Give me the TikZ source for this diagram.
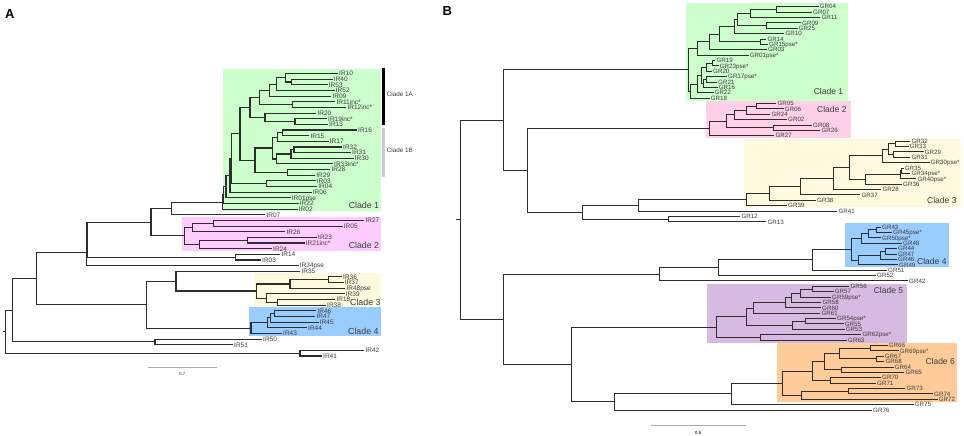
\documentclass[tikz,border=0pt]{standalone}
\usepackage{fontspec}
\setmainfont{Liberation Sans}
\usetikzlibrary{calc}
\definecolor{cgreen}{RGB}{204,255,204}
\definecolor{cpinkA}{RGB}{255,204,255}
\definecolor{cpinkB}{RGB}{255,208,232}
\definecolor{cyellow}{RGB}{255,250,222}
\definecolor{cblue}{RGB}{153,204,255}
\definecolor{cpurple}{RGB}{214,186,226}
\definecolor{corange}{RGB}{255,204,153}
\definecolor{treeline}{RGB}{45,45,45}
\definecolor{labgray}{RGB}{60,60,60}
\definecolor{scalegray}{RGB}{170,170,170}
\newcommand\lfA[4]{\node[leaf] (#1) at (#2,{73.5+5.65*#3}) {#4};}
\newcommand\lfB[4]{\node[leaf] (#1) at (#2,{6.7+5.377*#3}) {#4};}
\newcommand\jn[4]{%
  \coordinate (#1mid) at ($(#3)!0.5!(#4)$);
  \coordinate (#1) at (#2,0 |- #1mid);
  \draw[br] (#1) |- (#3);
  \draw[br] (#1) |- (#4);}
\begin{document}
\begin{tikzpicture}[x=1pt,y=-1pt,
  panellab/.style={anchor=west,font=\bfseries\fontsize{13}{13}\selectfont,inner sep=0pt},
  cladelab/.style={anchor=east,inner sep=0pt,text=labgray},
  scalelab/.style={font=\fontsize{4.5}{5}\selectfont,inner sep=0pt,text=labgray},
  scalebar/.style={draw=scalegray,line width=1.2pt}]
\useasboundingbox (0,0) rectangle (964,436);

% ---------------- Panel A ----------------
\node[panellab] (labA) at (5,14) {A};
\fill[cgreen] (222.7,69) rectangle (381,211);
\fill[cpinkA] (182,216.7) rectangle (380.7,250.7);
\fill[cyellow] (254.3,273.3) rectangle (380.7,306.7);
\fill[cblue] (249,307.3) rectangle (380.7,336);
\fill[black] (382.3,68.3) rectangle (385,125);
\fill[black!20] (382.3,127.7) rectangle (385,177.3);

\begin{scope}[leaf/.style={anchor=west,inner xsep=1.2pt,inner ysep=0pt,text height=4.7pt,text depth=0pt,font=\fontsize{6.5}{7}\selectfont,text=labgray},
  br/.style={draw=treeline,line width=1.1pt}]
\lfA{aIR10}{337.8}{0}{IR10}
\lfA{aIR40}{332.5}{1}{IR40}
\lfA{aIR53}{327.5}{2}{IR53}
\lfA{aIR52}{334.5}{3}{IR52}
\lfA{aIR09}{331.2}{4}{IR09}
\lfA{aIR11}{335.2}{5}{IR11inc*}
\lfA{aIR12}{346.2}{6}{IR12inc*}
\lfA{aIR20}{316.2}{7}{IR20}
\lfA{aIR19}{326.8}{8}{IR19inc*}
\lfA{aIR13}{327.8}{9}{IR13}
\lfA{aIR16}{356.8}{10}{IR16}
\lfA{aIR15}{309.2}{11}{IR15}
\lfA{aIR17}{328.5}{12}{IR17}
\lfA{aIR32}{341.8}{13}{IR32}
\lfA{aIR31}{350.8}{14}{IR31}
\lfA{aIR30}{353.5}{15}{IR30}
\lfA{aIR33}{332.8}{16}{IR33inc*}
\lfA{aIR28}{330.2}{17}{IR28}
\lfA{aIR29}{315}{18}{IR29}
\lfA{aIR03}{315.5}{19}{IR03}
\lfA{aIR04}{317}{20}{IR04}
\lfA{aIR06}{311.5}{21}{IR06}
\lfA{aIR01}{290.5}{22}{IR01pse}
\lfA{aIR22}{298.5}{23}{IR22}
\lfA{aIR02}{297.5}{24}{IR02}
\lfA{aIR07}{265.2}{25}{IR07}
\lfA{aIR27}{364.2}{26}{IR27}
\lfA{aIR05}{342.5}{27}{IR05}
\lfA{aIR26}{285.2}{28}{IR26}
\lfA{aIR23}{316.8}{29}{IR23}
\lfA{aIR21}{304.5}{30}{IR21inc*}
\lfA{aIR24}{271.8}{31}{IR24}
\lfA{aIR14}{280.2}{32}{IR14}
\lfA{aIR03x}{260.8}{33}{IR03}
\lfA{aIR34}{298.5}{34}{IR34pse}
\lfA{aIR35}{300.2}{35}{IR35}
\lfA{aIR36}{341.8}{36}{IR36}
\lfA{aIR37}{343.5}{37}{IR37}
\lfA{aIR48}{345.2}{38}{IR48pse}
\lfA{aIR39}{344.5}{39}{IR39}
\lfA{aIR18}{335.2}{40}{IR18}
\lfA{aIR38}{325.8}{41}{IR38}
\lfA{aIR46}{316.2}{42}{IR46}
\lfA{aIR47}{315.2}{43}{IR47}
\lfA{aIR45}{318.5}{44}{IR45}
\lfA{aIR44}{306.8}{45}{IR44}
\lfA{aIR43}{281.8}{46}{IR43}
\lfA{aIR50}{261.8}{47}{IR50}
\lfA{aIR51}{232.8}{48}{IR51}
\lfA{aIR42}{364.2}{49}{IR42}
\lfA{aIR41}{321.8}{50}{IR41}

\jn{an1}{291.7}{aIR40}{aIR53}
\jn{an2}{285.7}{aIR10}{an1}
\jn{an3}{276.7}{an2}{aIR52}
\jn{an4}{269.3}{an3}{aIR09}
\jn{an5}{292.7}{aIR11}{aIR12}
\jn{an6}{259.3}{an4}{an5}
\jn{an7}{295}{aIR19}{aIR13}
\jn{an8}{265}{aIR20}{an7}
\jn{an9}{250}{an6}{an8}
\jn{am5}{282.7}{aIR16}{aIR15}
\jn{am6}{277.3}{am5}{aIR17}
\jn{am1}{294}{aIR32}{aIR31}
\jn{am2}{291}{am1}{aIR30}
\jn{am3}{276.7}{am2}{aIR33}
\jn{am7}{272.3}{am6}{am3}
\jn{am8}{287.3}{aIR28}{aIR29}
\jn{am9}{255}{am7}{am8}
\jn{aAB}{240}{an9}{am9}
\jn{apr}{266.7}{aIR03}{aIR04}
\jn{aP}{231.7}{aAB}{apr}
\jn{aQ}{230}{aP}{aIR06}
\jn{aR}{226}{aQ}{aIR01}
\jn{aS}{223.5}{aR}{aIR22}
\jn{aT}{222.7}{aS}{aIR02}
\jn{ac2a}{213.3}{aIR27}{aIR05}
\jn{ac2b}{192.3}{ac2a}{aIR26}
\jn{ac2c}{247.3}{aIR23}{aIR21}
\jn{ac2d}{199.3}{ac2c}{aIR24}
\jn{aC2}{184.3}{ac2b}{ac2d}
\jn{ag0}{171.7}{aT}{aIR07}
\jn{ag1}{151}{ag0}{aC2}
\jn{ah1}{235.7}{aIR14}{aIR03x}
\jn{ah2}{87}{ag1}{ah1}
\jn{ah3}{86.7}{ah2}{aIR34}
\jn{ak1}{328.3}{aIR36}{aIR37}
\jn{ak2}{290}{ak1}{aIR48}
\jn{ak3}{277.3}{aIR18}{aIR38}
\jn{ak4}{266.7}{aIR39}{ak3}
\jn{aC3}{256.7}{ak2}{ak4}
\jn{aj1}{176}{aIR35}{aC3}
\jn{aq1}{274.3}{aIR46}{aIR47}
\jn{aq2}{270.5}{aq1}{aIR45}
\jn{aq3}{267.3}{aq2}{aIR44}
\jn{aC4}{251}{aq3}{aIR43}
\jn{aj2}{146.7}{aj1}{aC4}
\jn{ar1}{36.7}{ah3}{aj2}
\jn{al1}{155}{aIR50}{aIR51}
\jn{ar2}{12.3}{ar1}{al1}
\jn{al2}{300}{aIR42}{aIR41}
\jn{aroot}{5.7}{ar2}{al2}
\coordinate (atick) at (2.7,0 |- aroot);
\draw[br] (atick) -- (aroot);
\end{scope}

\begin{scope}[font=\fontsize{8.8}{9}\selectfont]
\node[cladelab] (aCl1) at (379.3,205) {Clade 1};
\node[cladelab] (aCl2) at (379.3,245) {Clade 2};
\node[cladelab] (aCl3) at (380.7,302.3) {Clade 3};
\node[cladelab] (aCl4) at (378.7,331) {Clade 4};
\end{scope}
\node[anchor=west,inner sep=0pt,text=labgray,font=\fontsize{6.3}{7}\selectfont] (aCl1A) at (386.7,94) {Clade 1A};
\node[anchor=west,inner sep=0pt,text=labgray,font=\fontsize{6.3}{7}\selectfont] (aCl1B) at (386.7,150) {Clade 1B};

\coordinate (asb1) at (148.3,367.7);
\coordinate (asb2) at (216.7,367.7);
\draw[scalebar] (asb1) -- (asb2);
\node[scalelab] (asbl) at (182.3,373.5) {0.7};

% ---------------- Panel B ----------------
\node[panellab] (labB) at (442.5,11.5) {B};
\fill[cgreen] (685.7,2.7) rectangle (848.3,100.7);
\fill[cpinkB] (705.7,101) rectangle (850.7,138.3);
\fill[cyellow] (744,139.3) rectangle (960.7,206.7);
\fill[cblue] (845,223.3) rectangle (949.3,266.7);
\fill[cpurple] (706.7,284) rectangle (906.7,342.7);
\fill[corange] (776.7,343.3) rectangle (956.7,401.7);

\begin{scope}[leaf/.style={anchor=west,inner xsep=1.2pt,inner ysep=0pt,text height=4.5pt,text depth=0pt,font=\fontsize{6.2}{7}\selectfont,text=labgray},
  br/.style={draw=treeline,line width=0.9pt}]
\lfB{bGR04}{818.5}{0}{GR04}
\lfB{bGR07}{811.8}{1}{GR07}
\lfB{bGR11}{820.2}{2}{GR11}
\lfB{bGR09}{800.8}{3}{GR09}
\lfB{bGR25}{797.5}{4}{GR25}
\lfB{bGR10}{784.2}{5}{GR10}
\lfB{bGR14}{766.2}{6}{GR14}
\lfB{bGR15}{767.8}{7}{GR15pse*}
\lfB{bGR03}{766.8}{8}{GR03}
\lfB{bGR01}{748.5}{9}{GR01pse*}
\lfB{bGR19}{715.2}{10}{GR19}
\lfB{bGR23}{718.5}{11}{GR23pse*}
\lfB{bGR20}{711.8}{12}{GR20}
\lfB{bGR17}{726.8}{13}{GR17pse*}
\lfB{bGR21}{716.8}{14}{GR21}
\lfB{bGR16}{717.5}{15}{GR16}
\lfB{bGR22}{713.5}{16}{GR22}
\lfB{bGR18}{709.5}{17}{GR18}
\lfB{bGR05}{776.2}{18}{GR05}
\lfB{bGR06}{783.5}{19}{GR06}
\lfB{bGR24}{770.2}{20}{GR24}
\lfB{bGR02}{786.8}{21}{GR02}
\lfB{bGR08}{811.8}{22}{GR08}
\lfB{bGR26}{820.2}{23}{GR26}
\lfB{bGR27}{774.2}{24}{GR27}
\lfB{bGR32}{910.2}{25}{GR32}
\lfB{bGR33}{908.5}{26}{GR33}
\lfB{bGR29}{923.5}{27}{GR29}
\lfB{bGR31}{910.2}{28}{GR31}
\lfB{bGR30}{929.5}{29}{GR30pse*}
\lfB{bGR35}{903.5}{30}{GR35}
\lfB{bGR34}{910.2}{31}{GR34pse*}
\lfB{bGR40}{916.2}{32}{GR40pse*}
\lfB{bGR36}{901.8}{33}{GR36}
\lfB{bGR28}{881.2}{34}{GR28}
\lfB{bGR37}{860.2}{35}{GR37}
\lfB{bGR38}{815.8}{36}{GR38}
\lfB{bGR39}{786.8}{37}{GR39}
\lfB{bGR41}{837.2}{38}{GR41}
\lfB{bGR12}{740.2}{39}{GR12}
\lfB{bGR13}{766.2}{40}{GR13}
\lfB{bGR43}{880.8}{41}{GR43}
\lfB{bGR45}{891.8}{42}{GR45pse*}
\lfB{bGR50}{880.8}{43}{GR50pse*}
\lfB{bGR48}{901.8}{44}{GR48}
\lfB{bGR44}{896.8}{45}{GR44}
\lfB{bGR47}{896.8}{46}{GR47}
\lfB{bGR46}{896.8}{47}{GR46}
\lfB{bGR49}{897.8}{48}{GR49}
\lfB{bGR51}{886.8}{49}{GR51}
\lfB{bGR52}{875.8}{50}{GR52}
\lfB{bGR42}{907.8}{51}{GR42}
\lfB{bGR56}{849.2}{52}{GR56}
\lfB{bGR57}{833.5}{53}{GR57}
\lfB{bGR59}{830.8}{54}{GR59pse*}
\lfB{bGR58}{821.2}{55}{GR58}
\lfB{bGR60}{820.8}{56}{GR60}
\lfB{bGR61}{820.2}{57}{GR61}
\lfB{bGR54}{835.8}{58}{GR54pse*}
\lfB{bGR55}{843.5}{59}{GR55}
\lfB{bGR53}{844.5}{60}{GR53}
\lfB{bGR62}{861.2}{61}{GR62pse*}
\lfB{bGR63}{846.8}{62}{GR63}
\lfB{bGR66}{887.5}{63}{GR66}
\lfB{bGR69}{898.5}{64}{GR69pse*}
\lfB{bGR67}{883.5}{65}{GR67}
\lfB{bGR68}{884.2}{66}{GR68}
\lfB{bGR64}{893.5}{67}{GR64}
\lfB{bGR65}{904.2}{68}{GR65}
\lfB{bGR70}{880.8}{69}{GR70}
\lfB{bGR71}{875.8}{70}{GR71}
\lfB{bGR73}{905.2}{71}{GR73}
\lfB{bGR74}{932.8}{72}{GR74}
\lfB{bGR72}{937.5}{73}{GR72}
\lfB{bGR75}{913.5}{74}{GR75}
\lfB{bGR76}{871.8}{75}{GR76}

\jn{bt1}{776.7}{bGR04}{bGR07}
\jn{bt2}{750}{bt1}{bGR11}
\jn{bt3}{766.7}{bGR09}{bGR25}
\jn{bt4}{737}{bt2}{bt3}
\jn{bt5}{734.3}{bt4}{bGR10}
\jn{bt6}{760}{bGR14}{bGR15}
\jn{bt7}{719}{bt5}{bt6}
\jn{bt8}{709}{bt7}{bGR03}
\jn{bt9}{697.3}{bt8}{bGR01}
\jn{bqa}{712}{bGR19}{bGR23}
\jn{bqb}{706.7}{bqa}{bGR20}
\jn{bqc}{706}{bGR17}{bGR21}
\jn{bqd}{703}{bqc}{bGR16}
\jn{bqe}{701.7}{bqb}{bqd}
\jn{bqf}{697.3}{bqe}{bGR22}
\jn{bqg}{690}{bqf}{bGR18}
\jn{bC1}{688.3}{bt9}{bqg}
\jn{bs1}{756.7}{bGR05}{bGR06}
\jn{bs2}{746}{bs1}{bGR24}
\jn{bs3}{734.3}{bs2}{bGR02}
\jn{bs4}{773.3}{bGR08}{bGR26}
\jn{bs5}{726}{bs3}{bs4}
\jn{bC2}{709}{bs5}{bGR27}
\jn{bv1}{895}{bGR32}{bGR33}
\jn{bv2}{893.3}{bGR29}{bGR31}
\jn{bv3}{888.3}{bv1}{bv2}
\jn{bv4}{882.3}{bv3}{bGR30}
\jn{bu1}{901.5}{bGR35}{bGR34}
\jn{bu2}{900}{bu1}{bGR40}
\jn{bu3}{865.7}{bu2}{bGR36}
\jn{bu4}{849}{bv4}{bu3}
\jn{bu5}{833.3}{bu4}{bGR28}
\jn{bu6}{800.7}{bu5}{bGR37}
\jn{bu7}{769}{bu6}{bGR38}
\jn{bC3}{746}{bu7}{bGR39}
\jn{bw1}{638.7}{bC3}{bGR41}
\jn{bw2}{668.3}{bGR12}{bGR13}
\jn{bw3}{582.7}{bw1}{bw2}
\jn{bm2}{527.3}{bC2}{bw3}
\jn{bm1}{503.3}{bC1}{bm2}
\jn{by1}{876.7}{bGR43}{bGR45}
\jn{by2}{868.3}{by1}{bGR50}
\jn{by3}{861.7}{by2}{bGR48}
\jn{bx1}{885.7}{bGR44}{bGR47}
\jn{bx2}{880}{bx1}{bGR46}
\jn{bx3}{858.3}{bx2}{bGR49}
\jn{bC4}{851}{by3}{bx3}
\jn{bz1}{812.3}{bC4}{bGR51}
\jn{bz2}{718.3}{bz1}{bGR52}
\jn{bz3}{659}{bz2}{bGR42}
\jn{bpa1}{812.7}{bGR56}{bGR57}
\jn{bpa2}{800}{bpa1}{bGR59}
\jn{bpa3}{791.7}{bpa2}{bGR58}
\jn{bpa4}{785}{bpa3}{bGR60}
\jn{bpa5}{753.3}{bpa4}{bGR61}
\jn{bpb1}{805}{bGR54}{bGR55}
\jn{bpb2}{792.7}{bpb1}{bGR53}
\jn{bpb3}{746}{bpa5}{bpb2}
\jn{bpb4}{760.7}{bGR62}{bGR63}
\jn{bC5}{716}{bpb3}{bpb4}
\jn{bod1}{870}{bGR66}{bGR69}
\jn{bod2}{876.7}{bGR67}{bGR68}
\jn{bod3}{839}{bod1}{bod2}
\jn{bod4}{841.7}{bGR64}{bGR65}
\jn{bod5}{824.3}{bod3}{bod4}
\jn{bod6}{830}{bGR70}{bGR71}
\jn{bod7}{812.7}{bod5}{bod6}
\jn{boe1}{848.3}{bGR73}{bGR74}
\jn{boe2}{801.7}{boe1}{bGR72}
\jn{bC6}{782.7}{bod7}{boe2}
\jn{bk1}{731.7}{bC6}{bGR75}
\jn{bk2}{614.3}{bk1}{bGR76}
\jn{bk3}{571}{bC5}{bk2}
\jn{bk4}{503.3}{bz3}{bk3}
\jn{broot}{460.7}{bm1}{bk4}
\coordinate (btick) at (455.7,0 |- broot);
\draw[br] (btick) -- (broot);
\end{scope}

\begin{scope}[font=\fontsize{8.5}{9}\selectfont]
\node[cladelab] (bCl1) at (843.3,91) {Clade 1};
\node[cladelab] (bCl2) at (846.7,109) {Clade 2};
\node[cladelab] (bCl3) at (956.7,200) {Clade 3};
\node[cladelab] (bCl4) at (946.7,261) {Clade 4};
\node[cladelab] (bCl5) at (903.3,290) {Clade 5};
\node[cladelab] (bCl6) at (955,361) {Clade 6};
\end{scope}

\coordinate (bsb1) at (651,425.7);
\coordinate (bsb2) at (746,425.7);
\draw[scalebar] (bsb1) -- (bsb2);
\node[scalelab,font=\bfseries\fontsize{4.5}{5}\selectfont] (bsbl) at (698.3,433.3) {0.5};
\end{tikzpicture}
\end{document}
